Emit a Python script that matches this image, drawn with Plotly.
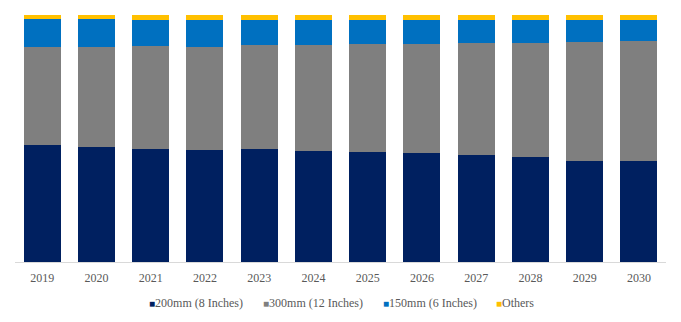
import plotly.graph_objects as go

years = ["2019", "2020", "2021", "2022", "2023", "2024", "2025", "2026", "2027", "2028", "2029", "2030"]
s200 = [47.2, 46.7, 45.7, 45.3, 45.7, 44.9, 44.5, 44.1, 43.2, 42.4, 40.9, 40.9]
s300 = [39.7, 40.5, 41.8, 41.9, 42.1, 43.0, 43.8, 44.2, 45.4, 46.3, 48.2, 48.5]
s150 = [11.5, 11.1, 10.5, 10.8, 10.2, 10.1, 9.7, 9.7, 9.4, 9.3, 8.9, 8.6]
others = [1.6, 1.7, 2.0, 2.0, 2.0, 2.0, 2.0, 2.0, 2.0, 2.0, 2.0, 2.0]

names = ["200mm (8 Inches)", "300mm (12 Inches)", "150mm (6 Inches)", "Others"]
colors = ["#002060", "#7f7f7f", "#0070c0", "#ffc000"]
series = [s200, s300, s150, others]

fig = go.Figure()
for nm, col, vals in zip(names, colors, series):
    fig.add_trace(go.Bar(x=years, y=vals, name=nm, marker=dict(color=col, line=dict(width=0))))

FONT = "Liberation Serif, Times New Roman, DejaVu Serif, serif"
W, H = 681, 322
ml, mr, mt, mb = 15, 15, 15, 60
pw = W - ml - mr
ph = H - mt - mb
legend_px = [147, 261, 381, 494]
annotations = []
for nm, col, px in zip(names, colors, legend_px):
    annotations.append(dict(
        xref="paper", yref="paper", x=(px - ml) / pw, y=-(303 - (H - mb)) / ph,
        xanchor="left", yanchor="middle", showarrow=False,
        text='<span style="color:%s;font-size:10px">■</span>%s' % (col, nm),
        font=dict(family=FONT, size=12, color="#595959"),
    ))

fig.update_layout(
    width=W, height=H, barmode="stack", bargap=0.32,
    margin=dict(l=ml, r=mr, t=mt, b=mb),
    paper_bgcolor="white", plot_bgcolor="white",
    showlegend=False,
    font=dict(family=FONT, size=12, color="#595959"),
    xaxis=dict(showline=True, linecolor="#d9d9d9", linewidth=1, ticks="", showgrid=False,
               ticklabelstandoff=5,
               tickfont=dict(family=FONT, size=12, color="#595959")),
    yaxis=dict(range=[0, 100], visible=False, showgrid=False),
    annotations=annotations,
)
fig.write_html("out.html")
